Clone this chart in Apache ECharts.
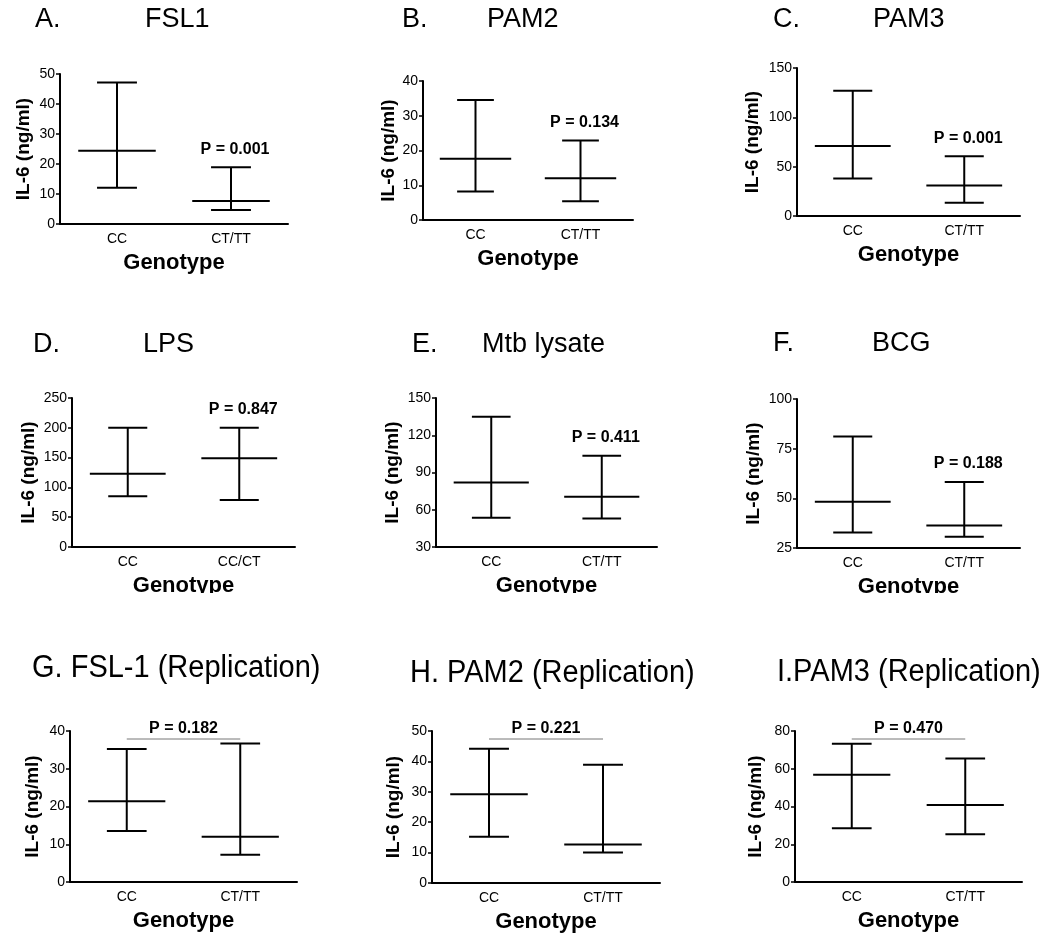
<!DOCTYPE html>
<html>
<head>
<meta charset="utf-8">
<script src="https://cdn.jsdelivr.net/npm/echarts@6.0.0/dist/echarts.min.js"></script>
<style>
html, body { margin: 0; padding: 0; background: #fff; }
#chart { width: 1050px; height: 944px; }
</style>
</head>
<body>
<div id="chart"></div>
<script>
// panel data (IL-6, ng/ml): median with interquartile range per genotype
var letters = ['A.', 'B.', 'C.', 'D.', 'E.', 'F.', 'G.', 'H.', 'I.'];
var stimuli = ['FSL1', 'PAM2', 'PAM3', 'LPS', 'Mtb lysate', 'BCG',
    'FSL-1 (Replication)', 'PAM2 (Replication)', 'PAM3 (Replication)'];
var genotypes = [
    ['CC', 'CT/TT'], ['CC', 'CT/TT'], ['CC', 'CT/TT'],
    ['CC', 'CC/CT'], ['CC', 'CT/TT'], ['CC', 'CT/TT'],
    ['CC', 'CT/TT'], ['CC', 'CT/TT'], ['CC', 'CT/TT']
];
var medians = [[24.4, 7.7], [17.6, 12.0], [71, 31], [123, 149], [82, 70.5], [48.3, 36.3], [21.4, 12.0], [29.2, 12.7], [56.8, 40.8]];
var lowerQ = [[12.1, 4.7], [8.2, 5.4], [38, 13.5], [85, 79], [53.5, 53], [32.8, 30.6], [13.5, 7.2], [15.2, 10.0], [28.5, 25.3]];
var upperQ = [[47.2, 18.9], [34.5, 22.9], [127, 60.5], [200, 200], [134.9, 103.4], [81.1, 58.2], [35.2, 36.7], [44.2, 38.9], [73.3, 65.4]];
var pValues = ['0.001', '0.134', '0.001', '0.847', '0.411', '0.188', '0.182', '0.221', '0.470'];
var yMin = [0, 0, 0, 0, 30, 25, 0, 0, 0];
var yMax = [50, 40, 150, 250, 150, 100, 40, 50, 80];
var yStep = [10, 10, 50, 50, 30, 25, 10, 10, 20];

// layout of the 3x3 panels (pixels)
var grids = [
    {left: 60, top: 74, width: 228, height: 150},
    {left: 423, top: 81, width: 210, height: 139},
    {left: 797, top: 68, width: 223, height: 148},
    {left: 72, top: 398, width: 223, height: 149},
    {left: 436, top: 398, width: 221, height: 149},
    {left: 797, top: 399, width: 223, height: 149},
    {left: 70, top: 731, width: 227, height: 151},
    {left: 432, top: 731, width: 228, height: 152},
    {left: 795, top: 731, width: 227, height: 151}
];
var yNameGap = [27, 24, 35, 34, 34, 34, 28, 29, 30];
// [letter x, stimulus x, centre y]
var titlePos = [[35, 145, 20], [402, 487, 20], [773, 873, 20],
    [33, 143, 345], [412, 482, 345], [773, 872, 344],
    [32, 0, 668], [410, 0, 673], [777, 0, 672]];

var FONT = 'Arial, "Liberation Sans", sans-serif';

function makeRender(k) {
    return function (params, api) {
        var x = api.value(0);
        var lo = api.coord([x, api.value(1)]);
        var md = api.coord([x, api.value(2)]);
        var hi = api.coord([x, api.value(3)]);
        var band = api.size([1, 0])[0];
        var cap = band * 0.175, half = band * 0.34;
        var st = {stroke: '#000', lineWidth: 2};
        var kids = [
            {type: 'line', shape: {x1: hi[0], y1: hi[1], x2: lo[0], y2: lo[1]}, style: st},
            {type: 'line', shape: {x1: hi[0] - cap, y1: hi[1], x2: hi[0] + cap, y2: hi[1]}, style: st},
            {type: 'line', shape: {x1: lo[0] - cap, y1: lo[1], x2: lo[0] + cap, y2: lo[1]}, style: st},
            {type: 'line', shape: {x1: md[0] - half, y1: md[1], x2: md[0] + half, y2: md[1]}, style: st}
        ];
        if (params.dataIndex === 1) {
            var label = 'P = ' + pValues[k];
            if (k < 6) {
                kids.push({type: 'text', x: hi[0] + 4, y: hi[1] - 18,
                    style: {text: label, font: 'bold 16px ' + FONT, fill: '#000', align: 'center', verticalAlign: 'middle'}});
            } else {
                // significance bracket between the two genotypes
                var top = api.coord([0, yMax[k]]);
                var by = top[1] + 8;
                kids.push({type: 'line', shape: {x1: top[0], y1: by, x2: hi[0], y2: by},
                    style: {stroke: '#777', lineWidth: 1}});
                kids.push({type: 'text', x: (top[0] + hi[0]) / 2, y: by - 2,
                    style: {text: label, font: 'bold 16px ' + FONT, fill: '#000', align: 'center', verticalAlign: 'bottom'}});
            }
        }
        return {type: 'group', children: kids};
    };
}

var xAxes = [], yAxes = [], series = [], graphic = [];
for (var k = 0; k < 9; k++) {
    xAxes.push({
        type: 'category', gridIndex: k, data: genotypes[k],
        axisLine: {lineStyle: {color: '#000', width: 2}},
        axisTick: {alignWithLabel: true, length: 4, lineStyle: {color: '#000', width: 1.5}},
        axisLabel: {color: '#000', fontSize: 14, fontFamily: FONT, margin: 8},
        name: 'Genotype', nameLocation: 'middle', nameGap: 28,
        nameTextStyle: {color: '#000', fontSize: 22, fontWeight: 'bold', fontFamily: FONT}
    });
    yAxes.push({
        type: 'value', gridIndex: k, min: yMin[k], max: yMax[k], interval: yStep[k],
        axisLine: {show: true, lineStyle: {color: '#000', width: 2}},
        axisTick: {show: true, length: 4, lineStyle: {color: '#000', width: 1.5}},
        splitLine: {show: false},
        axisLabel: {color: '#000', fontSize: 14, fontFamily: FONT, margin: 5},
        name: 'IL-6 (ng/ml)', nameLocation: 'middle', nameRotate: 90, nameGap: yNameGap[k],
        nameTextStyle: {color: '#000', fontSize: 19, fontWeight: 'bold', fontFamily: FONT}
    });
    var rows = [];
    for (var i = 0; i < 2; i++) {
        rows.push([i, lowerQ[k][i], medians[k][i], upperQ[k][i]]);
    }
    series.push({
        type: 'custom', xAxisIndex: k, yAxisIndex: k,
        renderItem: makeRender(k),
        encode: {x: 0, y: [1, 2, 3]},
        data: rows, silent: true
    });

    var p = titlePos[k];
    if (k < 6) {
        graphic.push({type: 'text', x: p[0], y: p[2],
            style: {text: letters[k], font: '27px ' + FONT, fill: '#000', verticalAlign: 'middle'}});
        graphic.push({type: 'text', x: p[1], y: p[2],
            style: {text: stimuli[k], font: '27px ' + FONT, fill: '#000', verticalAlign: 'middle'}});
    } else {
        graphic.push({type: 'text', x: p[0], y: p[2], scaleY: 1.1,
            style: {text: letters[k] + (k === 8 ? '' : ' ') + stimuli[k], font: '29px ' + FONT, fill: '#000', verticalAlign: 'middle'}});
    }
}
// the second row of the figure is cropped just under the axis titles
graphic.push({type: 'rect', shape: {x: 0, y: 593, width: 1050, height: 10}, style: {fill: '#fff'}, z: 100});

var myChart = echarts.init(document.getElementById('chart'));
myChart.setOption({
    backgroundColor: '#fff',
    animation: false,
    grid: grids,
    xAxis: xAxes,
    yAxis: yAxes,
    series: series,
    graphic: graphic
});
</script>
</body>
</html>
